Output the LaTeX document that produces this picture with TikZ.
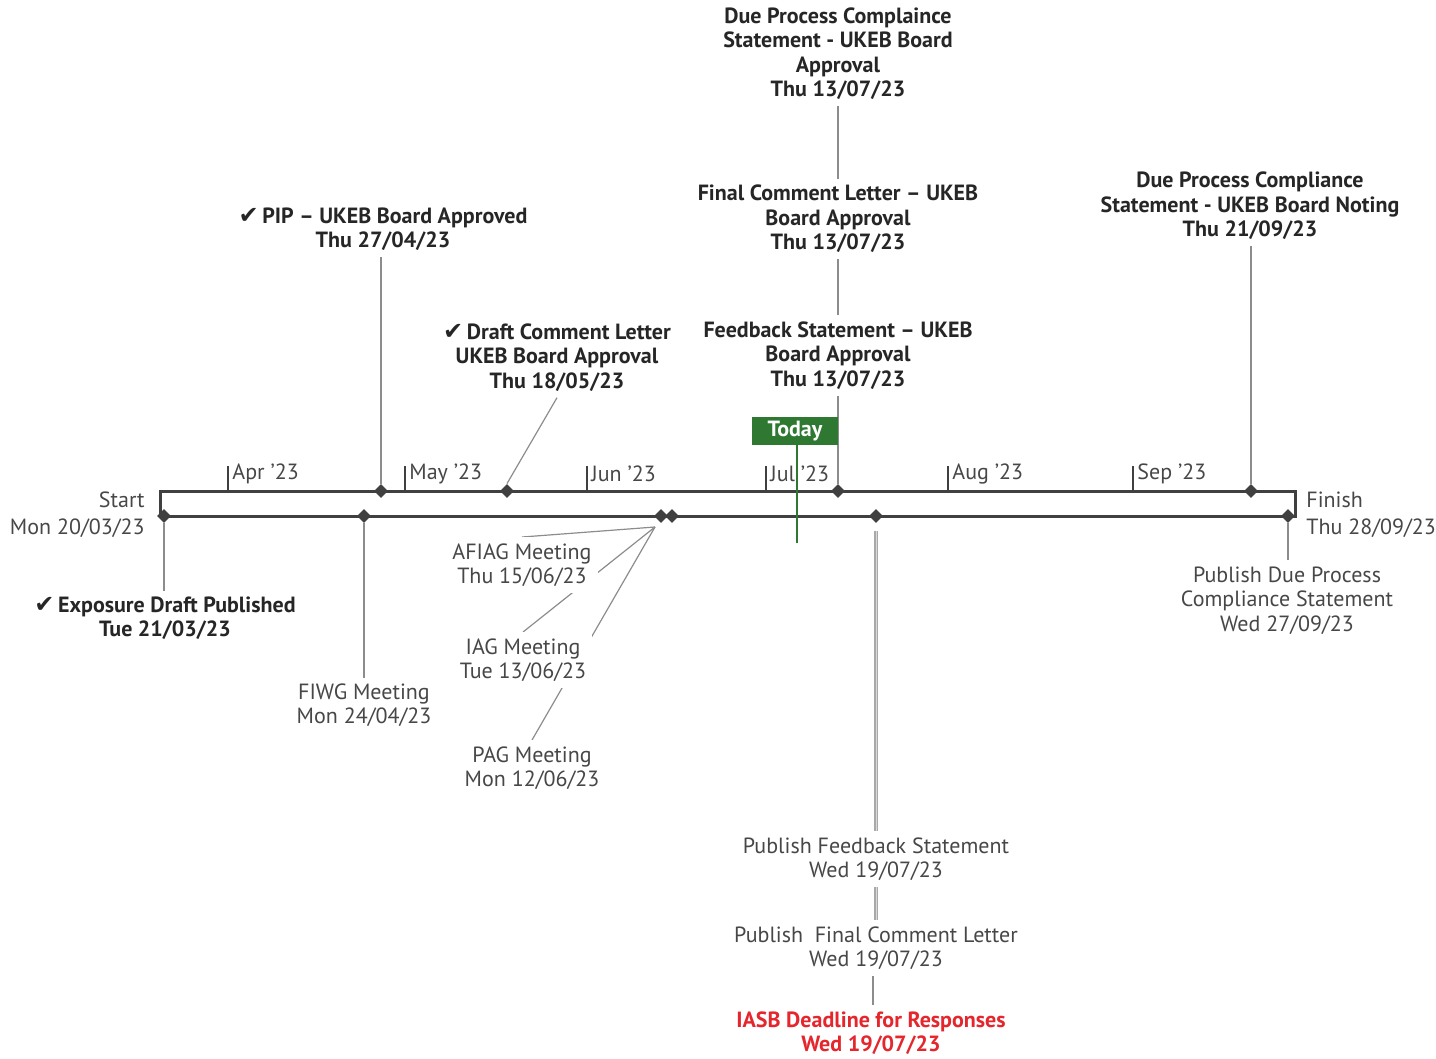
\documentclass[tikz,border=0pt]{standalone}
\usepackage{fontspec}
\setmainfont{PT Sans}
\newfontfamily\symfont{DejaVu Sans}
\usepackage{tikz}
\usetikzlibrary{shapes.geometric, positioning, backgrounds, calc}
\definecolor{bardark}{HTML}{404040}
\definecolor{txtdark}{HTML}{262626}
\definecolor{txtgray}{HTML}{474747}
\definecolor{leadgray}{HTML}{8C8C8C}
\definecolor{todaygreen}{HTML}{2E7832}
\definecolor{deadred}{HTML}{E5262D}
\newcommand{\lblfont}{\fontsize{11}{12.2}\selectfont}
\newcommand{\chk}{{\symfont\fontsize{12}{12}\selectfont\char"2714}\,}
\tikzstyle{bar}     = [draw=bardark, line width=1.5pt]
\tikzstyle{ms}      = [diamond, fill=bardark, inner sep=0pt, minimum size=7pt]
\tikzstyle{tick}    = [draw=bardark, line width=0.6pt]
\tikzstyle{month}   = [anchor=west, inner sep=1pt, text=txtgray]
\tikzstyle{lbl}     = [align=center, fill=white, inner sep=3pt, text=txtgray]
\tikzstyle{lblb}    = [lbl, text=txtdark, font=\lblfont\bfseries]
\tikzstyle{lead}    = [draw=leadgray, line width=0.6pt]
\tikzstyle{lead2}   = [draw=leadgray!75, line width=0.7pt, double=white!85!black,
                       double distance=0.5pt]
\tikzstyle{today}   = [fill=todaygreen, text=white, font=\lblfont\bfseries,
                       minimum width=43pt, minimum height=13.5pt, inner sep=0pt]

\begin{document}
\begin{tikzpicture}[x=0.5pt, y=-0.5pt, font=\lblfont]
  \useasboundingbox (0,0) rectangle (1436,1059);

  %% Timeline bar
  \draw[bar] (160,491) rectangle (1295,516);
  \foreach \x/\m in {228/Apr, 405/May, 587/Jun, 766/Jul, 948/Aug, 1133/Sep} {
    \draw[tick] (\x,466) -- (\x,491);
    \node[month] at (\x+2,474) {\m~'23};
  }

  %% Start / Finish
  \node[anchor=east, text=txtgray, inner sep=1pt] (startT) at (147,500) {Start};
  \node[anchor=east, text=txtgray, inner sep=1pt] (startD) at (147,528) {Mon 20/03/23};
  \node[anchor=west, text=txtgray, inner sep=1pt] (finT) at (1304,500) {Finish};
  \node[anchor=west, text=txtgray, inner sep=1pt] (finD) at (1304,528) {Thu 28/09/23};

  %% Milestones above
  \node[ms] (m27a) at (381,491) {};
  \node[ms] (m18)  at (507,491) {};
  \node[ms] (m13)  at (838,491) {};
  \node[ms] (m21)  at (1251,491) {};

  %% Milestones below
  \node[ms] (m21b) at (164,516) {};
  \node[ms] (m24)  at (364,516) {};
  \node[ms] (m12)  at (661,516) {};
  \node[ms] (m15)  at (672,516) {};
  \node[ms] (m19)  at (876,516) {};
  \node[ms] (m27b) at (1288,516) {};
  \coordinate (fan) at (655,527);

  %% Labels above
  \node[lblb] (pipL) at (383,229.5) {\chk PIP -- UKEB Board Approved\\Thu 27/04/23};
  \node[lblb] (draftL) at (557,357.5)
        {\chk Draft Comment Letter\\UKEB Board Approval\\Thu 18/05/23};
  \node[lblb] (feedL) at (838,355.5)
        {Feedback Statement -- UKEB\\Board Approval\\Thu 13/07/23};
  \node[lblb] (finalL) at (838,219)
        {Final Comment Letter -- UKEB\\Board Approval\\Thu 13/07/23};
  \node[lblb] (dueL) at (838,53.5)
        {Due Process Complaince\\Statement - UKEB Board\\Approval\\Thu 13/07/23};
  \node[lblb] (notL) at (1250,206)
        {Due Process Compliance\\Statement - UKEB Board Noting\\Thu 21/09/23};

  %% Labels below
  \node[lblb] (expL) at (165,618.5) {\chk Exposure Draft Published\\Tue 21/03/23};
  \node[lbl] (fiwgL) at (364,705.5) {FIWG Meeting\\Mon 24/04/23};
  \node[lbl] (afiagL) at (522,565) {AFIAG Meeting\\Thu 15/06/23};
  \node[lbl] (iagL) at (523,660) {IAG Meeting\\Tue 13/06/23};
  \node[lbl] (pagL) at (532,768) {PAG Meeting\\Mon 12/06/23};
  \node[lbl] (pubFS) at (876,859) {Publish Feedback Statement\\Wed 19/07/23};
  \node[lbl] (pubFCL) at (876,948) {Publish~ Final Comment Letter\\Wed 19/07/23};
  \node[lblb, text=deadred] (iasbL) at (871,1033)
        {IASB Deadline for Responses\\Wed 19/07/23};
  \node[lbl] (pubDP) at (1287,600.5)
        {Publish Due Process\\Compliance Statement\\Wed 27/09/23};

  %% Today
  \node[today] (today) at (795,431) {Today};
  \coordinate (todayEnd) at (797,543);

  %% Leaders
  \begin{scope}[on background layer]
    \draw[lead] (m27a.north) -- (m27a |- pipL.south);
    \draw[lead] (m18.north) -- (draftL.south);
    \draw[lead] (m13.north) -- (m13 |- feedL.south);
    \draw[lead] (m13 |- feedL.north) -- (m13 |- finalL.south);
    \draw[lead] (m13 |- finalL.north) -- (m13 |- dueL.south);
    \draw[lead] (m21.north) -- (m21 |- notL.south);
    \draw[lead] (m21b.south) -- (m21b |- expL.north);
    \draw[lead] (m24.south) -- (m24 |- fiwgL.north);
    \draw[lead] (fan) -- (afiagL.north);
    \draw[lead] (fan) -- (iagL.north);
    \draw[lead] (fan) -- (pagL.north);
    \draw[lead2] ([yshift=-4pt]m19.south) -- (m19 |- pubFS.north);
    \draw[lead2] (m19 |- pubFS.south) -- (m19 |- pubFCL.north);
    \draw[lead] ([xshift=-1.5pt]m19 |- pubFCL.south) -- ([xshift=-1.5pt]m19 |- iasbL.north);
    \draw[lead] (m27b.south) -- (m27b |- pubDP.north);
  \end{scope}
  \draw[todaygreen, line width=0.6pt] (today.south -| todayEnd) -- (todayEnd);

\end{tikzpicture}
\end{document}
